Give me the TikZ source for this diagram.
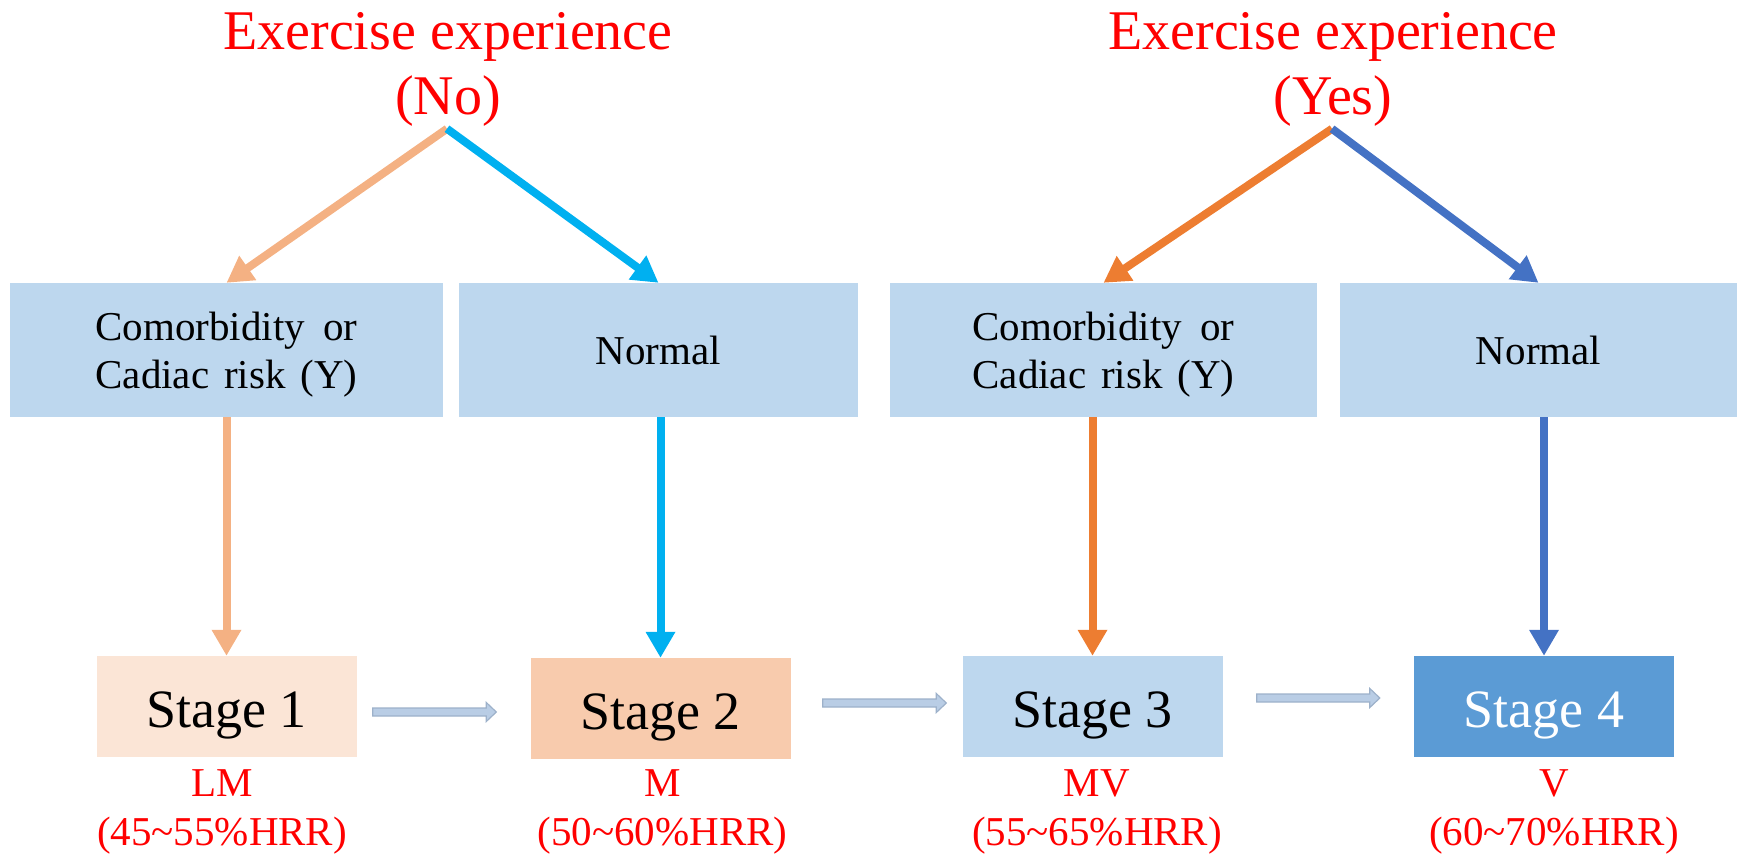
\documentclass[tikz,border=0pt]{standalone}
\usepackage{fontspec}
\setmainfont{Liberation Serif}
\usetikzlibrary{arrows.meta,calc}

\definecolor{condfill}{HTML}{BDD7EE}
\definecolor{stageone}{HTML}{FBE5D6}
\definecolor{stagetwo}{HTML}{F8CBAD}
\definecolor{stagethree}{HTML}{BDD7EE}
\definecolor{stagefour}{HTML}{5B9BD5}
\definecolor{peach}{HTML}{F4B183}
\definecolor{skyblue}{HTML}{00B0F0}
\definecolor{deeporange}{HTML}{ED7D31}
\definecolor{royal}{HTML}{4472C4}
\definecolor{progfill}{HTML}{B9CDE5}
\definecolor{progline}{HTML}{9DB1CA}

% block arrow between two consecutive stages
\newcommand\stepconn[2]{%
  \filldraw[fill=progfill, draw=progline, line width=1.2pt, line join=miter]
    ($(#1)+(0,-4)$) -- ($(#2)+(-10,-4)$) -- ($(#2)+(-10,-9.5)$) -- (#2)
    -- ($(#2)+(-10,9.5)$) -- ($(#2)+(-10,4)$) -- ($(#1)+(0,4)$) -- cycle;}

\begin{document}
\begin{tikzpicture}[x=1pt,y=-1pt,
  cond/.style={rectangle, fill=condfill, inner sep=0pt, minimum height=134pt,
    font=\fontsize{41}{48}\selectfont, align=center, text depth=0pt},
  stagebox/.style={rectangle, inner sep=0pt, minimum width=260pt, minimum height=101pt,
    font=\fontsize{54}{60}\selectfont, text height=41pt, text depth=0pt},
  heading/.style={text=red, font=\fontsize{56}{65}\selectfont, align=center,
    inner sep=0pt, text depth=0pt},
  intensity/.style={text=red, font=\fontsize{41}{49}\selectfont, align=center,
    inner sep=0pt, text depth=0pt},
  flow/.style={line width=8pt, -{Triangle[length=26pt,width=28pt]}}]

\useasboundingbox (0,0) rectangle (1737,855);

% headings
\node[heading] (tno) at (448,63.5) {Exercise experience\\(No)};
\node[heading] (tyes) at (1333,63.5) {Exercise experience\\(Yes)};
\coordinate (ano) at ($(tno.south)+(-1,14)$);
\coordinate (ayes) at ($(tyes.south)+(-1,14)$);

% condition boxes
\node[cond, minimum width=433pt] (c1) at (226.5,350)
  {\makebox[262pt][s]{Comorbidity or}\\\makebox[262pt][s]{Cadiac risk (Y)}};
\node[cond, minimum width=399pt] (n1) at (658.5,350) {Normal};
\node[cond, minimum width=427pt] (c2) at (1103.5,350)
  {\makebox[262pt][s]{Comorbidity or}\\\makebox[262pt][s]{Cadiac risk (Y)}};
\node[cond, minimum width=397pt] (n2) at (1538.5,350) {Normal};

% stages
\node[stagebox, fill=stageone] (s1) at (226.5,706.5) {Stage 1};
\node[stagebox, fill=stagetwo] (s2) at (660.5,708.5) {Stage 2};
\node[stagebox, fill=stagethree] (s3) at (1092.5,706.5) {Stage 3};
\node[stagebox, fill=stagefour, text=white] (s4) at (1544,706.5) {Stage 4};

% intensity labels
\node[intensity] (i1) at (222,808) {LM\\(45\textasciitilde55\%HRR)};
\node[intensity] (i2) at (662.5,808) {M\\(50\textasciitilde60\%HRR)};
\node[intensity] (i3) at (1097,808) {MV\\(55\textasciitilde65\%HRR)};
\node[intensity] (i4) at (1554,808) {V\\(60\textasciitilde70\%HRR)};

% branches from the headings
\draw[flow, peach] (ano) -- (c1.north);
\draw[flow, skyblue] (ano) -- (n1.north);
\draw[flow, deeporange] (ayes) -- (c2.north);
\draw[flow, royal] (ayes) -- (n2.north);

% condition to stage
\draw[flow, peach] (c1.south -| s1.north) -- (s1.north);
\draw[flow, skyblue] (n1.south -| s2.north) -- (s2.north);
\draw[flow, deeporange] (c2.south -| s3.north) -- (s3.north);
\draw[flow, royal] (n2.south -| s4.north) -- (s4.north);

% progression between stages
\coordinate (h1s) at ($(s1.east)+(16,5.5)$);
\coordinate (h1e) at ($(s2.west)+(-34,3.5)$);
\coordinate (h2s) at ($(s2.east)+(32,-5.5)$);
\coordinate (h2e) at ($(s3.west)+(-16,-3.5)$);
\coordinate (h3s) at ($(s3.east)+(34,-8.5)$);
\coordinate (h3e) at ($(s4.west)+(-34,-8.5)$);
\stepconn{h1s}{h1e}
\stepconn{h2s}{h2e}
\stepconn{h3s}{h3e}

\end{tikzpicture}
\end{document}
